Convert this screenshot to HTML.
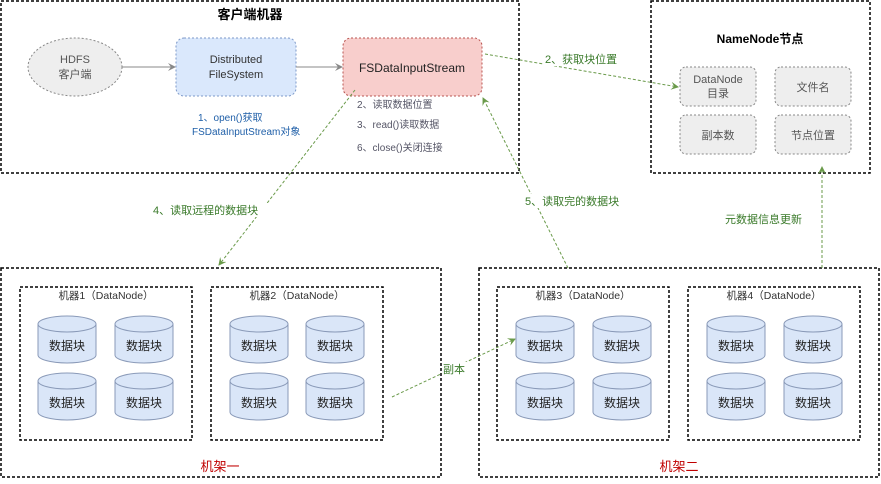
<!DOCTYPE html>
<html><head><meta charset="utf-8"><style>
body{margin:0;background:#fff;}
svg text{font-family:"Liberation Sans","Noto Sans CJK SC",sans-serif;}
</style></head><body>
<svg width="881" height="479" viewBox="0 0 881 479" xmlns="http://www.w3.org/2000/svg">
<defs>
<marker id="ag" markerWidth="8" markerHeight="8" refX="7" refY="4" orient="auto" markerUnits="userSpaceOnUse"><path d="M0,0 L8,4 L0,8 L3,4 Z" fill="#6a9a4a"/></marker>
<marker id="ay" markerWidth="8" markerHeight="8" refX="7" refY="4" orient="auto" markerUnits="userSpaceOnUse"><path d="M0,0 L8,4 L0,8 L3,4 Z" fill="#888"/></marker>
<g id="cyl">
<path d="M0,8 L0,39 A29,8 0 0 0 58,39 L58,8" fill="#dae6f8" stroke="#8a9ab8" stroke-width="1"/>
<ellipse cx="29" cy="8" rx="29" ry="8" fill="#dae6f8" stroke="#8a9ab8" stroke-width="1"/>
<text x="29" y="34" font-size="12" text-anchor="middle" fill="#222">数据块</text>
</g>
</defs>
<g fill="none" stroke="#000" stroke-width="1.5" stroke-dasharray="3,2">
<rect x="1" y="1" width="518" height="172"/>
<rect x="651" y="1" width="219" height="172"/>
<rect x="1" y="268" width="440" height="209"/>
<rect x="479" y="268" width="400" height="209"/>
<rect x="20" y="287" width="172" height="153"/>
<rect x="211" y="287" width="172" height="153"/>
<rect x="497" y="287" width="172" height="153"/>
<rect x="688" y="287" width="172" height="153"/>
</g>
<text x="250" y="19" font-size="13" font-weight="bold" text-anchor="middle">客户端机器</text>
<ellipse cx="75" cy="67" rx="47" ry="29" fill="#eee" stroke="#888" stroke-dasharray="2,2"/>
<text x="75" y="63" font-size="11" text-anchor="middle" fill="#555">HDFS</text>
<text x="75" y="78" font-size="11" text-anchor="middle" fill="#555">客户端</text>
<rect x="176" y="38" width="120" height="58" rx="8" fill="#dae8fc" stroke="#7c98c8" stroke-dasharray="2,2"/>
<text x="236" y="63" font-size="11" text-anchor="middle" fill="#333">Distributed</text>
<text x="236" y="78" font-size="11" text-anchor="middle" fill="#333">FileSystem</text>
<rect x="343" y="38" width="139" height="58" rx="8" fill="#f8cecc" stroke="#b85450" stroke-dasharray="2,2"/>
<text x="412" y="72" font-size="12" text-anchor="middle" fill="#222">FSDataInputStream</text>
<line x1="122" y1="67" x2="175" y2="67" stroke="#888" marker-end="url(#ay)"/>
<line x1="296" y1="67" x2="342" y2="67" stroke="#888" marker-end="url(#ay)"/>
<text x="198" y="121" font-size="10" fill="#1f5fa8">1、open()获取</text>
<text x="192" y="135" font-size="10" fill="#1f5fa8">FSDataInputStream对象</text>
<text x="357" y="108" font-size="10" fill="#556">2、读取数据位置</text>
<text x="357" y="128" font-size="10" fill="#556">3、read()读取数据</text>
<text x="357" y="151" font-size="10" fill="#556">6、close()关闭连接</text>
<text x="760" y="43" font-size="12" font-weight="bold" text-anchor="middle">NameNode节点</text>
<g fill="#eee" stroke="#888" stroke-dasharray="2,2">
<rect x="680" y="67" width="76" height="39" rx="6"/>
<rect x="775" y="67" width="76" height="39" rx="6"/>
<rect x="680" y="115" width="76" height="39" rx="6"/>
<rect x="775" y="115" width="76" height="39" rx="6"/>
</g>
<g font-size="11" text-anchor="middle" fill="#555">
<text x="718" y="83">DataNode</text><text x="718" y="97">目录</text>
<text x="813" y="91">文件名</text>
<text x="718" y="139">副本数</text>
<text x="813" y="139">节点位置</text>
</g>
<g stroke="#6a9a4a" stroke-width="1" stroke-dasharray="3,2" fill="none">
<line x1="485" y1="54" x2="678" y2="87" marker-end="url(#ag)"/>
<line x1="355" y1="90" x2="219" y2="265" marker-end="url(#ag)"/>
<line x1="568" y1="268" x2="483" y2="98" marker-end="url(#ag)"/>
<line x1="822" y1="268" x2="822" y2="167" marker-end="url(#ag)"/>
<line x1="392" y1="397" x2="515" y2="339" marker-end="url(#ag)"/>
</g>
<g font-size="11" fill="#3a7a2a">
<rect x="544" y="52" width="82" height="14" fill="#fff"/>
<text x="545" y="63">2、获取块位置</text>
<rect x="152" y="203" width="122" height="14" fill="#fff"/>
<text x="153" y="214">4、读取远程的数据块</text>
<rect x="524" y="194" width="104" height="14" fill="#fff"/>
<text x="525" y="205">5、读取完的数据块</text>
<text x="725" y="223">元数据信息更新</text>
<rect x="442" y="362" width="25" height="14" fill="#fff"/>
<text x="443" y="373">副本</text>
</g>
<g font-size="10.5" text-anchor="middle" fill="#333">
<text x="106" y="299">机器1（DataNode）</text>
<text x="297" y="299">机器2（DataNode）</text>
<text x="583" y="299">机器3（DataNode）</text>
<text x="774" y="299">机器4（DataNode）</text>
</g>
<g>
<use href="#cyl" x="38" y="316"/><use href="#cyl" x="115" y="316"/><use href="#cyl" x="38" y="373"/><use href="#cyl" x="115" y="373"/>
<use href="#cyl" x="230" y="316"/><use href="#cyl" x="306" y="316"/><use href="#cyl" x="230" y="373"/><use href="#cyl" x="306" y="373"/>
<use href="#cyl" x="516" y="316"/><use href="#cyl" x="593" y="316"/><use href="#cyl" x="516" y="373"/><use href="#cyl" x="593" y="373"/>
<use href="#cyl" x="707" y="316"/><use href="#cyl" x="784" y="316"/><use href="#cyl" x="707" y="373"/><use href="#cyl" x="784" y="373"/>
</g>
<text x="220" y="471" font-size="13" fill="#c00000" text-anchor="middle">机架一</text>
<text x="679" y="471" font-size="13" fill="#c00000" text-anchor="middle">机架二</text>
</svg>
</body></html>
